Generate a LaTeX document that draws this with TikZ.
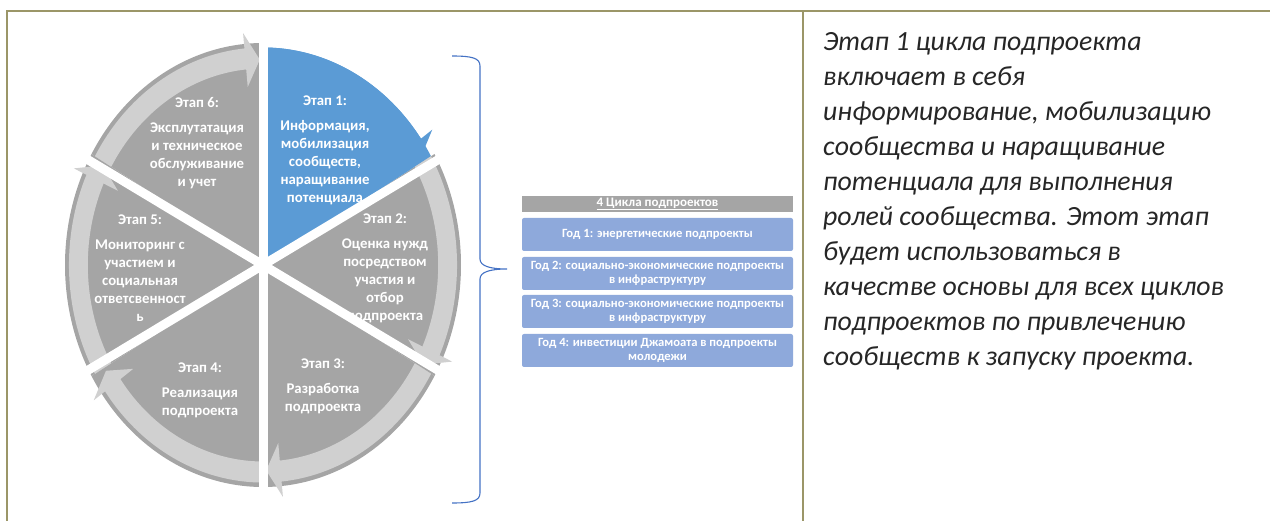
\documentclass[tikz,border=0pt]{standalone}
\usepackage{fontspec}
\setmainfont{Carlito}
\definecolor{frameol}{HTML}{9B9668}
\definecolor{piegray}{HTML}{A5A5A5}
\definecolor{bandgray}{HTML}{D0D0D0}
\definecolor{stageblue}{HTML}{5B9BD5}
\definecolor{boxblue}{HTML}{8EA9DB}
\definecolor{braceblue}{HTML}{4472C4}
\definecolor{bodytext}{HTML}{262626}
\newcommand{\ringarrow}[3]{%
  \pgfmathsetmacro\hbase{#3+5.5}%
  \pgfmathsetmacro\htip{#3+1}%
  \fill[#1] (#2:194.04pt and 217.56pt)
    arc[start angle=#2, end angle=\hbase, x radius=194.04pt, y radius=217.56pt]
    -- (\hbase:207.9pt and 233pt) -- (\htip:183.2pt and 205.4pt)
    -- (\hbase:159.4pt and 178.8pt) -- (\hbase:175.2pt and 196.5pt)
    arc[start angle=\hbase, end angle=#2, x radius=175.2pt, y radius=196.5pt] -- cycle;}
\newcommand{\piesector}[3]{%
  \fill[#1] (0,0) -- (#2:198pt and 222pt)
    arc[start angle=#2, end angle=#3, x radius=198pt, y radius=222pt] -- cycle;}
\tikzset{
  stagetext/.style={text=white, align=center, inner sep=0pt,
    font=\bfseries\fontsize{14.8}{18}\selectfont},
  yearbox/.style={fill=boxblue, rounded corners=2pt, minimum width=271pt,
    minimum height=33pt, inner sep=0pt, text=white, align=center,
    font=\bfseries\fontsize{12.6}{14.5}\selectfont},
  titlebar/.style={fill=piegray, minimum width=271pt, minimum height=16pt,
    inner sep=0pt, text=white, font=\bfseries\fontsize{13}{14}\selectfont},
  gapline/.style={white, line width=9pt},
  frameline/.style={frameol, line width=2pt},
}
\begin{document}
\begin{tikzpicture}[x=1pt, y=1pt]
\useasboundingbox (0,0) rectangle (1270,-521);
% frame
\draw[frameline] (6,-11) -- (1270,-11);
\draw[frameline] (7,-11) -- (7,-521);
\draw[frameline] (803,-11) -- (803,-521);
% wheel
\begin{scope}[shift={(263,-265)}]
  \piesector{piegray}{30}{-30}
  \piesector{piegray}{-30}{-90}
  \piesector{piegray}{-90}{-150}
  \piesector{piegray}{-150}{-210}
  \piesector{piegray}{150}{90}
  \fill[stageblue] (0,0) -- (90:194pt and 217.5pt)
    arc[start angle=90, end angle=30, x radius=194pt, y radius=217.5pt] -- cycle;
  \ringarrow{stageblue}{90}{30}
  \ringarrow{bandgray}{30}{-30}
  \ringarrow{bandgray}{-30}{-90}
  \ringarrow{bandgray}{-90}{-150}
  \ringarrow{bandgray}{-150}{-210}
  \ringarrow{bandgray}{150}{90}
\end{scope}
% stage texts
\node[stagetext] (s6) at (197,-143) {Этап 6:\\[7pt]Эксплутатация\\и техническое\\обслуживание\\и учет};
\node[stagetext] (s1) at (325,-150) {Этап 1:\\[7pt]Информация,\\мобилизация\\сообществ,\\наращивание\\потенциала};
\node[stagetext] (s2) at (385,-268) {Этап 2:\\[7pt]Оценка нужд\\посредством\\участия и\\отбор\\подпроекта};
\node[stagetext] (s3) at (323,-386) {Этап 3:\\[7pt]Разработка\\подпроекта};
\node[stagetext] (s4) at (200,-390) {Этап 4:\\[7pt]Реализация\\подпроекта};
\node[stagetext] (s5) at (140,-268) {Этап 5:\\[7pt]Мониторинг с\\участием и\\социальная\\ответсвенност\\ь};
% gaps
\begin{scope}[shift={(263,-265)}]
  \draw[gapline] (90:240pt and 250pt) -- (270:240pt and 250pt);
  \draw[gapline] (30:240pt and 250pt) -- (210:240pt and 250pt);
  \draw[gapline] (-30:240pt and 250pt) -- (150:240pt and 250pt);
\end{scope}
% brace
\draw[braceblue, line width=1.1pt] (452,-56) .. controls (472,-56) and (480,-58) .. (480,-66)
  -- (480,-259) .. controls (480,-266) and (490,-269) .. (507,-269)
  .. controls (490,-269) and (480,-272) .. (480,-279)
  -- (480,-493) .. controls (480,-501) and (472,-503) .. (452,-503);
% year boxes
\node[titlebar] (tb) at (657.5,-204) {\underline{4 Цикла подпроектов}};
\node[yearbox] (y1) at (657.5,-234.5) {Год 1: энергетические подпроекты};
\node[yearbox] (y2) at (657.5,-273.5) {Год 2: социально-экономические подпроекты\\в инфраструктуру};
\node[yearbox] (y3) at (657.5,-311.5) {Год 3: социально-экономические подпроекты\\в инфраструктуру};
\node[yearbox] (y4) at (657.5,-350.5) {Год 4: инвестиции Джамоата в подпроекты\\молодежи};
% description
\node[anchor=north west, inner sep=0pt, align=left, text=bodytext,
  font=\itshape\fontsize{27.8}{35}\selectfont] (desc) at (823,-32)
  {Этап 1 цикла подпроекта\\включает в себя\\информирование, мобилизацию\\сообщества и наращивание\\потенциала для выполнения\\ролей сообщества. Этот этап\\будет использоваться в\\качестве основы для всех циклов\\подпроектов по привлечению\\сообществ к запуску проекта.};
\end{tikzpicture}
\end{document}
